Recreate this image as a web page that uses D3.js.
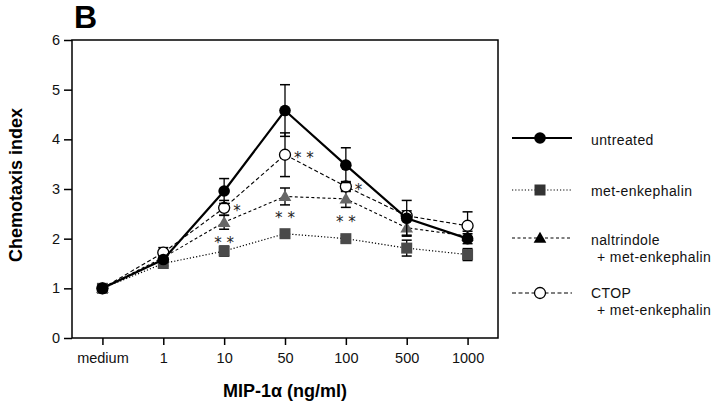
<!DOCTYPE html>
<html><head><meta charset="utf-8">
<script src="https://cdn.jsdelivr.net/npm/d3@7"></script>
<style>body{margin:0;background:#fff}svg{display:block}</style>
</head><body>
<svg id="c" width="720" height="408"></svg>
<script>
const categories = ["medium","1","10","50","100","500","1000"];
const yTicks = [0,1,2,3,4,5,6];
const untreated = [1.0, 1.58, 2.96, 4.58, 3.48, 2.41, 2.0];
const untreatedErr = [0, 0.05, 0.25, 0.52, 0.35, 0.36, 0.1];
const metEnk = [1.0, 1.50, 1.75, 2.10, 2.0, 1.81, 1.68];
const metEnkErr = [0, 0.05, 0.1, 0.06, 0.06, 0.16, 0.12];
const naltrindole = [1.0, 1.62, 2.33, 2.85, 2.80, 2.22, 2.05];
const naltrindoleErr = [0, 0.05, 0.14, 0.17, 0.17, 0.15, 0.1];
const ctop = [1.0, 1.72, 2.62, 3.69, 3.05, 2.46, 2.26];
const ctopErr = [0, 0.1, 0.15, 0.44, 0.1, 0.1, 0.28];
const seriesNames = ["untreated","met-enkephalin","naltrindole","CTOP"];
// significance marks: [category, value, text]
const marks = [["10",2.62,"*"],["50",3.69,"* *"],["100",3.05,"*"],["10",1.98,"* *"],["50",2.48,"* *"],["100",2.4,"* *"]];

const svg = d3.select("#c");
const L=72,R=498,T=40,B=338;
const x = d3.scalePoint().domain(categories).range([L,R]).padding(0.5);
const y = d3.scaleLinear().domain([0,6]).range([B,T]);
const font = "'Liberation Sans', Arial, sans-serif";

svg.append("text").attr("x",74).attr("y",28).attr("font-family",font).attr("font-weight","bold").attr("font-size",32).text("B");

// frame
svg.append("rect").attr("x",L).attr("y",T).attr("width",R-L).attr("height",B-T).attr("fill","none").attr("stroke","#000").attr("stroke-width",1.5);

const ya = svg.append("g").attr("transform",`translate(${L},0)`).call(d3.axisLeft(y).tickValues(yTicks).tickFormat(d3.format("d")).tickSize(8).tickPadding(4));
const xa = svg.append("g").attr("transform",`translate(0,${B})`).call(d3.axisBottom(x).tickSize(7).tickPadding(8));
[ya,xa].forEach(a=>{a.select(".domain").remove();a.selectAll("line").attr("stroke-width",1.5);a.selectAll("text").attr("font-family",font).attr("font-size",14.5).attr("fill","#111");});

svg.append("text").attr("transform","translate(22,185) rotate(-90)").attr("text-anchor","middle").attr("font-family",font).attr("font-weight","bold").attr("font-size",18).text("Chemotaxis index");
svg.append("text").attr("x",285).attr("y",397).attr("text-anchor","middle").attr("font-family",font).attr("font-weight","bold").attr("font-size",18).text("MIP-1α (ng/ml)");

const defs = [
  {name:"untreated",vals:untreated,err:untreatedErr,dash:null,w:2.2,marker:"circle",fill:"#000",lfill:"#000"},
  {name:"met-enkephalin",vals:metEnk,err:metEnkErr,dash:"1.2,2",w:1.2,marker:"square",fill:"#4a4a4a",lfill:"#333"},
  {name:"naltrindole",vals:naltrindole,err:naltrindoleErr,dash:"3,2.5",w:1.1,marker:"triangle",fill:"#666",lfill:"#000"},
  {name:"CTOP",vals:ctop,err:ctopErr,dash:"4,2.5",w:1.1,marker:"open",fill:"#fff",lfill:"#fff"}
];
const drawOrder=[1,2,3,0];
const line = d3.line().x((d,i)=>x(categories[i])).y(d=>y(d));

function marker(g,type,cx,cy,fill){
  if(type==="circle") g.append("circle").attr("cx",cx).attr("cy",cy).attr("r",5.8).attr("fill",fill);
  else if(type==="open") g.append("circle").attr("cx",cx).attr("cy",cy).attr("r",5.5).attr("fill","#fff").attr("stroke","#000").attr("stroke-width",1.3);
  else if(type==="square") g.append("rect").attr("x",cx-5.5).attr("y",cy-5.5).attr("width",11).attr("height",11).attr("fill",fill);
  else if(type==="triangle") g.append("path").attr("d",d3.symbol(d3.symbolTriangle,70)()).attr("transform",`translate(${cx},${cy+1})`).attr("fill",fill);
}

drawOrder.forEach(k=>{
  const s=defs[k];
  const g=svg.append("g");
  g.append("path").attr("d",line(s.vals)).attr("fill","none").attr("stroke","#000").attr("stroke-width",s.w).attr("stroke-dasharray",s.dash);
  s.vals.forEach((v,i)=>{
    const e=s.err[i]; if(!e) return;
    const cx=x(categories[i]);
    g.append("line").attr("x1",cx).attr("x2",cx).attr("y1",y(v-e)).attr("y2",y(v+e)).attr("stroke","#000").attr("stroke-width",1.3);
    [v-e,v+e].forEach(w=>g.append("line").attr("x1",cx-5).attr("x2",cx+5).attr("y1",y(w)).attr("y2",y(w)).attr("stroke","#000").attr("stroke-width",1.5));
  });
  s.vals.forEach((v,i)=>marker(g,s.marker,x(categories[i]),y(v),s.fill));
});

// significance asterisks
marks.forEach((m,i)=>{
  const side = i<3;
  svg.append("text").attr("x",x(m[0])+(side?9:0)).attr("y",y(m[1])+8).attr("text-anchor",side?"start":"middle")
    .attr("font-family","'DejaVu Sans', sans-serif").attr("font-size",15).attr("fill","#222").attr("xml:space","preserve").text(m[2]);
});

// legend
const leg=[{y:138,dy:7,lines:["untreated"]},{y:190,dy:6,lines:["met-enkephalin"]},{y:238,dy:7,lines:["naltrindole","+ met-enkephalin"]},{y:293,dy:5,lines:["CTOP","+ met-enkephalin"]}];
leg.forEach((l,k)=>{
  const s=defs[k];
  const g=svg.append("g");
  g.append("line").attr("x1",512).attr("x2",572).attr("y1",l.y).attr("y2",l.y).attr("stroke","#000").attr("stroke-width",s.w).attr("stroke-dasharray",s.dash);
  marker(g,s.marker,540,l.y,s.lfill);
  l.lines.forEach((line,j)=>g.append("text").attr("x",j?597:591).attr("y",l.y+l.dy+j*16.5)
    .attr("font-family",font).attr("font-size",14).attr("letter-spacing",0.4).attr("fill","#111").text(line));
});
</script>
</body></html>
